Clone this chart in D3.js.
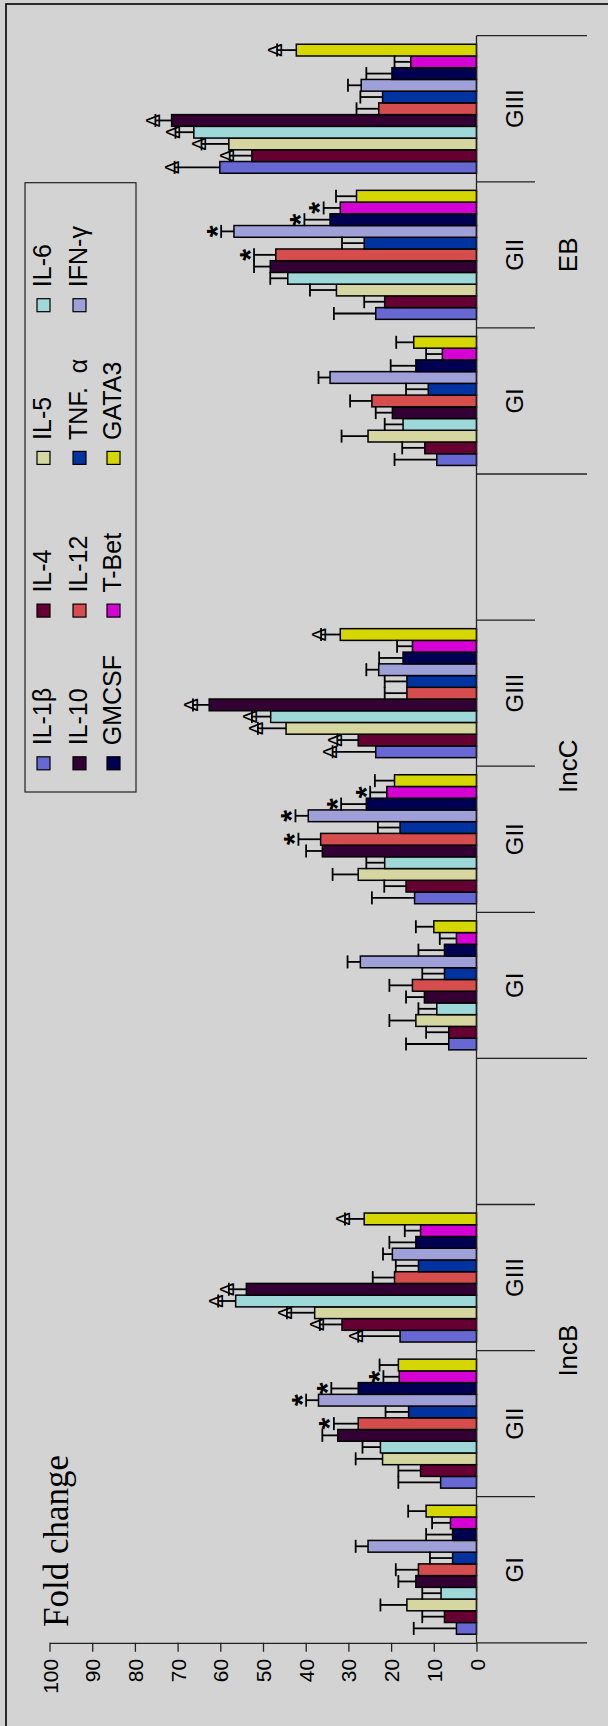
<!DOCTYPE html>
<html>
<head>
<meta charset="utf-8">
<script src="https://cdn.jsdelivr.net/npm/d3@7"></script>
<style>
  html, body { margin: 0; padding: 0; background: #d3d3d3; }
  svg { display: block; }
</style>
</head>
<body>
<svg id="chart" width="608" height="1726"></svg>
<script>
// ---- data ---------------------------------------------------------------
const groups = ["IncB", "IncC", "EB"];
const subgroups = ["GI", "GII", "GIII"];

const seriesNames = ["IL-1β", "IL-4", "IL-5", "IL-6", "IL-10", "IL-12",
                     "TNF.\u00a0\u00a0α", "IFN-γ", "GMCSF", "T-Bet", "GATA3"];
const seriesColors = ["#6868d4", "#660033", "#d6d6a0", "#9ed8d8", "#330033", "#d64d4d",
                      "#0033a0", "#a0a0d8", "#000052", "#d400d4", "#d6d600"];

// means, ordered IncB GI, GII, GIII, IncC GI, GII, GIII, EB GI, GII, GIII
const il1b  = [4.7, 8.4, 17.9, 6.5, 14.5, 23.6, 9.3, 23.6, 60.1];
const il4   = [7.5, 13.1, 31.5, 6.5, 16.5, 27.7, 12.1, 21.5, 52.6];
const il5   = [16.3, 22.0, 37.9, 14.2, 27.7, 44.6, 25.4, 32.8, 58.0];
const il6   = [8.3, 22.5, 56.4, 9.3, 21.5, 48.2, 17.2, 44.2, 66.2];
const il10  = [14.2, 32.5, 53.9, 12.2, 36.1, 62.6, 19.7, 48.3, 71.4];
const il12  = [13.6, 27.7, 19.2, 15.0, 36.5, 16.3, 24.5, 47.0, 22.9];
const tnfa  = [5.6, 15.9, 13.6, 7.5, 17.9, 16.3, 11.3, 26.3, 22.0];
const ifng  = [25.4, 37.0, 19.7, 27.2, 39.4, 22.9, 34.3, 56.8, 27.0];
const gmcsf = [5.6, 27.7, 14.2, 7.5, 25.8, 17.2, 14.2, 34.3, 19.8];
const tbet  = [6.1, 18.1, 13.1, 4.7, 21.0, 15.0, 8.0, 31.9, 15.4];
const gata3 = [11.8, 18.3, 26.3, 10.0, 19.2, 31.9, 14.7, 28.1, 42.2];

// upper error (SD), same order
const il1bErr  = [10.0, 9.9, 9.8, 10.0, 10.0, 10.1, 9.9, 9.8, 10.6];
const il4Err   = [5.2, 5.2, 5.2, 5.3, 5.1, 4.9, 5.3, 4.8, 5.2];
const il5Err   = [6.2, 6.3, 6.5, 6.2, 6.0, 6.6, 6.2, 6.2, 6.4];
const il6Err   = [4.4, 4.2, 4.1, 4.3, 4.3, 4.4, 4.3, 4.1, 4.3];
const il10Err  = [4.1, 3.6, 4.1, 4.3, 3.8, 3.8, 3.9, 3.8, 3.8];
const il12Err  = [5.3, 5.7, 5.1, 5.4, 5.2, 5.2, 5.1, 5.1, 5.2];
const tnfaErr  = [5.3, 5.4, 5.3, 5.2, 5.2, 5.2, 5.2, 5.2, 5.2];
const ifngErr  = [2.9, 2.9, 2.2, 3.0, 3.0, 2.9, 2.7, 3.0, 3.1];
const gmcsfErr = [6.2, 6.3, 6.2, 6.1, 5.9, 5.6, 5.9, 6.0, 6.0];
const tbetErr  = [4.3, 3.7, 3.7, 3.9, 3.9, 3.6, 3.8, 3.9, 3.8];
const gata3Err = [4.2, 4.4, 4.5, 4.2, 4.6, 4.5, 4.1, 4.8, 4.5];

// significance marks: "*" on GII, "Δ" on GIII for these series
const starSeries  = ["IL-12", "IFN-γ", "GMCSF", "T-Bet"];
const deltaSeries = ["IL-1β", "IL-4", "IL-5", "IL-6", "IL-10", "GATA3"];

const valueTicks = [0, 10, 20, 30, 40, 50, 60, 70, 80, 90, 100];
const axisTitle = "Fold change";

// ---- setup --------------------------------------------------------------
const values = [il1b, il4, il5, il6, il10, il12, tnfa, ifng, gmcsf, tbet, gata3];
const errors = [il1bErr, il4Err, il5Err, il6Err, il10Err, il12Err, tnfaErr, ifngErr, gmcsfErr, tbetErr, gata3Err];

const SANS = "'Liberation Sans', Arial, sans-serif";
const SERIF = "'Liberation Serif', 'Times New Roman', serif";

const svg = d3.select("#chart");

// chart area
svg.append("rect").attr("width", 608).attr("height", 1726).attr("fill", "#d3d3d3");
svg.append("rect")
  .attr("x", 6).attr("y", 4).attr("width", 700).attr("height", 1800)
  .attr("fill", "none").attr("stroke", "#000").attr("stroke-width", 1.6);

// category slots: each group holds its subgroups plus a spacer (except the last)
const slots = [];
groups.forEach((g, gi) => {
  subgroups.forEach(s => slots.push({ key: g + "|" + s, group: g, sub: s }));
  if (gi < groups.length - 1) slots.push({ key: g + "|", group: g, sub: "" });
});

const catTop = 35.7, catBottom = 1642.8;
const baseX = 476.5;

const x = d3.scaleLinear().domain([0, 100]).range([baseX, 49.5]);
const y = d3.scaleBand().domain(slots.map(d => d.key)).range([catBottom, catTop]);
const inner = d3.scaleBand().domain(d3.range(seriesNames.length))
  .range([y.bandwidth(), 0]).paddingOuter(0.73);

// flatten to records
const records = [];
groups.forEach((g, gi) => {
  subgroups.forEach((s, si) => {
    const ci = gi * subgroups.length + si;
    seriesNames.forEach((name, k) => {
      records.push({
        key: g + "|" + s, sub: s, series: k, name,
        value: values[k][ci], err: errors[k][ci]
      });
    });
  });
});

const plot = svg.append("g");

// bars
plot.selectAll("rect.bar").data(records).join("rect")
  .attr("class", "bar")
  .attr("x", d => x(d.value))
  .attr("y", d => y(d.key) + inner(d.series))
  .attr("width", d => x(0) - x(d.value))
  .attr("height", inner.bandwidth())
  .attr("fill", d => seriesColors[d.series])
  .attr("stroke", "#000")
  .attr("stroke-width", 1.5);

// error bars (plus direction)
const capHalf = 6.5;
const eb = plot.selectAll("g.err").data(records).join("g").attr("class", "err")
  .attr("stroke", "#000").attr("stroke-width", 1.8);
eb.append("line")
  .attr("x1", d => x(d.value)).attr("x2", d => x(d.value + d.err))
  .attr("y1", d => y(d.key) + inner(d.series) + inner.bandwidth() / 2)
  .attr("y2", d => y(d.key) + inner(d.series) + inner.bandwidth() / 2);
eb.append("line")
  .attr("x1", d => x(d.value + d.err)).attr("x2", d => x(d.value + d.err))
  .attr("y1", d => y(d.key) + inner(d.series) + inner.bandwidth() / 2 - capHalf)
  .attr("y2", d => y(d.key) + inner(d.series) + inner.bandwidth() / 2 + capHalf);

// significance marks
const stars = records.filter(d => d.sub === "GII" && starSeries.includes(d.name));
plot.selectAll("text.star").data(stars).join("text")
  .attr("class", "star")
  .attr("transform", d => {
    const cx = x(d.value + d.err) - 11.5 + 17;
    const cy = y(d.key) + inner(d.series) + inner.bandwidth() / 2;
    return `translate(${cx},${cy}) rotate(-90)`;
  })
  .attr("text-anchor", "middle")
  .attr("font-family", SANS).attr("font-size", 30).attr("font-weight", "bold")
  .text("*");

const deltas = records.filter(d => d.sub === "GIII" && deltaSeries.includes(d.name));
plot.selectAll("text.delta").data(deltas).join("text")
  .attr("class", "delta")
  .attr("transform", d => {
    const cx = x(d.value + d.err) - 9.5 + 7;
    const cy = y(d.key) + inner(d.series) + inner.bandwidth() / 2;
    return `translate(${cx},${cy}) rotate(-90)`;
  })
  .attr("text-anchor", "middle")
  .attr("dy", "0.36em")
  .attr("font-family", SANS).attr("font-size", 20)
  .text("Δ");

// ---- value axis ---------------------------------------------------------
const vAxis = svg.append("g")
  .attr("transform", `translate(0,${catBottom})`)
  .call(d3.axisBottom(x).tickValues(valueTicks).tickSize(9).tickSizeOuter(0).tickFormat(d3.format("d")));
vAxis.select(".domain").attr("stroke", "#222").attr("stroke-width", 1.3);
vAxis.selectAll(".tick line").attr("stroke", "#222").attr("stroke-width", 1.3);
vAxis.selectAll(".tick text")
  .attr("x", null).attr("y", null).attr("dy", null)
  .attr("transform", "translate(7.5,16) rotate(-90)")
  .attr("text-anchor", "end")
  .attr("fill", "#000")
  .attr("font-family", SANS).attr("font-size", 21);

// ---- category axis ------------------------------------------------------
const cAxis = svg.append("g").attr("stroke", "#222").attr("stroke-width", 1.3);
cAxis.append("line").attr("x1", baseX).attr("x2", baseX).attr("y1", catTop).attr("y2", catBottom);

// boundaries between slots; group edges get the long divider
const boundaries = [];
slots.forEach((s, i) => {
  const lower = y(s.key) + y.bandwidth();
  const groupStart = i === 0 || slots[i - 1].group !== s.group;
  boundaries.push({ pos: lower, long: groupStart });
});
boundaries.push({ pos: y(slots[slots.length - 1].key), long: true });
cAxis.selectAll("line.div").data(boundaries).join("line")
  .attr("class", "div")
  .attr("x1", baseX).attr("x2", d => d.long ? 587 : 535)
  .attr("y1", d => d.pos).attr("y2", d => d.pos);

// subgroup labels
svg.selectAll("text.sub").data(slots.filter(s => s.sub)).join("text")
  .attr("class", "sub")
  .attr("transform", d => `translate(523,${y(d.key) + y.bandwidth() / 2}) rotate(-90)`)
  .attr("text-anchor", "middle")
  .attr("font-family", SANS).attr("font-size", 24)
  .text(d => d.sub);

// group labels, centred on their slots
const groupSpans = groups.map(g => {
  const ks = slots.filter(s => s.group === g);
  const ys = ks.map(s => y(s.key));
  return { group: g, center: (d3.min(ys) + d3.max(ys) + y.bandwidth()) / 2 };
});
svg.selectAll("text.grp").data(groupSpans).join("text")
  .attr("class", "grp")
  .attr("transform", d => `translate(577,${d.center}) rotate(-90)`)
  .attr("text-anchor", "middle")
  .attr("font-family", SANS).attr("font-size", 26)
  .text(d => d.group);

// axis title
svg.append("text")
  .attr("transform", "translate(68,1627) rotate(-90)")
  .attr("font-family", SERIF).attr("font-size", 35)
  .text(axisTitle);

// ---- legend -------------------------------------------------------------
const legend = svg.append("g");
legend.append("rect")
  .attr("x", 25).attr("y", 182.7).attr("width", 111).attr("height", 609.3)
  .attr("fill", "#d3d3d3").attr("stroke", "#222").attr("stroke-width", 1.2);

const legendCols = 4;
const rowBaseline = [51, 87, 121];
const colY = d3.scaleLinear().domain([0, 1]).range([763.3, 610.6]);
const items = legend.selectAll("g.item").data(seriesNames).join("g")
  .attr("class", "item")
  .attr("transform", (d, i) => `translate(${rowBaseline[Math.floor(i / legendCols)]},${colY(i % legendCols)})`);
items.append("rect")
  .attr("x", -14).attr("y", -6.5).attr("width", 13).attr("height", 13)
  .attr("fill", (d, i) => seriesColors[i])
  .attr("stroke", "#000").attr("stroke-width", 1.2);
items.append("text")
  .attr("transform", "translate(0,-18) rotate(-90)")
  .attr("text-anchor", "start")
  .attr("font-family", SANS).attr("font-size", 25)
  .text(d => d);
</script>
</body>
</html>
